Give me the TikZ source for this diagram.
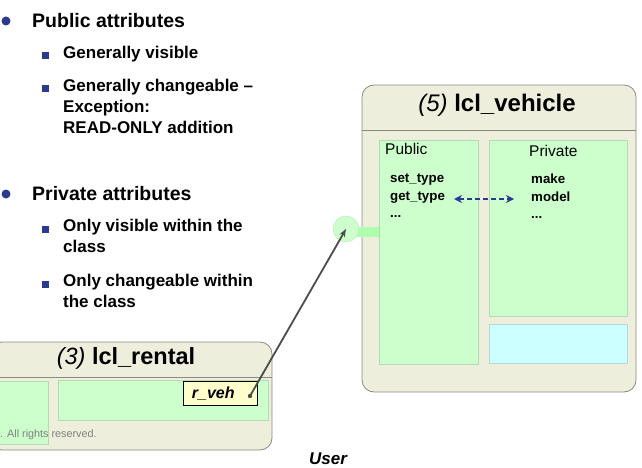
\documentclass[tikz,border=0pt]{standalone}
\usepackage{fontspec}
\setmainfont{Liberation Sans}
\usetikzlibrary{arrows.meta}
\definecolor{frame}{HTML}{EEEEDD}
\definecolor{frameline}{HTML}{8A8A80}
\definecolor{lgreen}{HTML}{CCFFCC}
\definecolor{lcyan}{HTML}{CCFFFF}
\definecolor{bnavy}{HTML}{2B3990}
\definecolor{ryell}{HTML}{FFFFCC}
\tikzset{
 outer/.style={fill=frame,draw=frameline,line width=0.8pt,rounded corners=12pt},
 green/.style={fill=lgreen,draw=lgreen!70!gray,line width=0.6pt},
 bul/.style={circle,fill=bnavy,inner sep=0pt,minimum size=9pt},
 sq/.style={fill=bnavy,inner sep=0pt,minimum size=7pt},
 t1/.style={anchor=west,font=\fontsize{19.5}{22}\selectfont\bfseries,inner sep=0pt},
 t2/.style={anchor=north west,align=left,font=\fontsize{17}{21}\selectfont\bfseries,inner sep=0pt},
 mem/.style={anchor=north west,align=left,font=\fontsize{13.3}{17.5}\selectfont\bfseries,inner sep=0pt},
}
\begin{document}
\begin{tikzpicture}[x=1pt,y=-1pt]
\useasboundingbox (0,0) rectangle (642,468);
% bullets
\node[bul] (b1) at (6,21) {};
\node[t1] (p1) at (32,21) {Public attributes};
\node[sq] (s1) at (45,56) {};
\node[t2] (q1) at (63,46) {Generally visible};
\node[sq] (s2) at (45,89) {};
\node[t2] (q2) at (63,79) {Generally changeable –\\Exception:\\READ-ONLY addition};
\node[bul] (b2) at (6,194) {};
\node[t1] (p2) at (32,194) {Private attributes};
\node[sq] (s3) at (45,229) {};
\node[t2] (q3) at (63,219) {Only visible within the\\class};
\node[sq] (s4) at (45,284) {};
\node[t2] (q4) at (63,274) {Only changeable within\\the class};
% vehicle
\draw[outer] (362,85) rectangle (636,392);
\draw[frameline,line width=0.6pt] (362,130) -- (636,130);
\node[font=\fontsize{24}{26}\selectfont] (vt) at (497,105) {\textit{(5)} \textbf{lcl\_vehicle}};
\fill[lgreen!85!green] (350,227) rectangle (380,237);
\node[circle,fill=lgreen,draw=lgreen!80!gray,minimum size=26pt,inner sep=0pt] (port) at (346,229) {};
\draw[green] (379,140) rectangle (478,364);
\draw[green] (489,140) rectangle (627,316);
\draw[fill=lcyan,draw=lcyan!70!gray,line width=0.6pt] (489,324) rectangle (627,363);
\node[anchor=north west,inner sep=0pt,font=\fontsize{15.5}{17}\selectfont] (pub) at (385,143) {Public};
\node[anchor=north west,inner sep=0pt,font=\fontsize{15.5}{17}\selectfont] (pri) at (529,145) {Private};
\node[mem] (pm) at (390,174) {set\_type\\get\_type\\...};
\node[mem] (vm) at (531,174) {make\\model\\...};
\coordinate (al) at (454,199);
\coordinate (ar) at (514,199);
\draw[bnavy,dash pattern=on 5pt off 3pt,line width=1.6pt,{Stealth[length=8pt,width=8pt]}-{Stealth[length=8pt,width=8pt]}] (al) -- (ar);
% rental
\draw[outer] (-10,342) rectangle (272,450);
\draw[frameline,line width=0.6pt] (-10,377) -- (272,377);
\node[font=\fontsize{23.5}{26}\selectfont] (rt) at (126,358) {\textit{(3)} \textbf{lcl\_rental}};
\draw[green] (-5,381) rectangle (48,444);
\draw[green] (58,380) rectangle (268,420);
\node[anchor=west,inner sep=0pt,text=gray,font=\fontsize{10.8}{12}\selectfont] (cp) at (0,435) {. All rights reserved.};
\node[draw=black,fill=ryell,line width=0.6pt,minimum width=74pt,minimum height=24pt,inner sep=0pt,font=\fontsize{16}{18}\selectfont\bfseries\itshape,anchor=north west] (rv) at (183,381) {\hspace*{-14pt}r\_veh};
\coordinate (rvd) at (250,396);
\draw[black!70,line width=1.8pt,-{Stealth[length=8pt]}] (rvd) -- (port.center);
\fill[black!70] (rvd) circle (2.2pt);
\node[font=\fontsize{17}{19}\selectfont\bfseries\itshape,inner sep=0pt] (user) at (328,459) {User};
\end{tikzpicture}
\end{document}
